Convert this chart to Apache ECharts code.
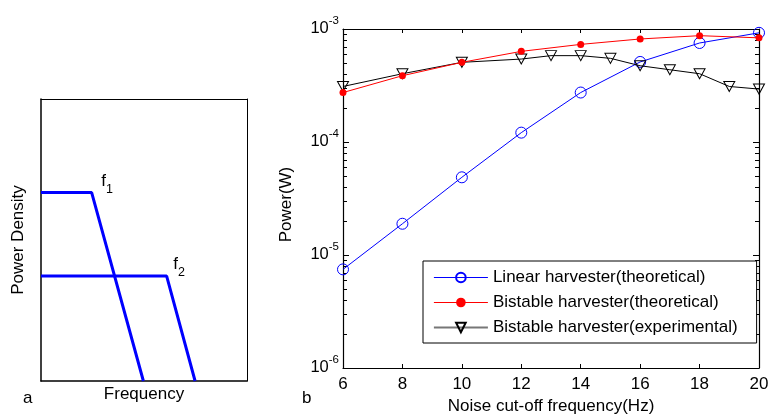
<!DOCTYPE html>
<html><head><meta charset="utf-8">
<script src="https://cdn.jsdelivr.net/npm/echarts@6/dist/echarts.min.js"></script>
<style>html,body{margin:0;padding:0;background:#fff}#c{width:768px;height:414px}</style>
</head><body><div id="c"></div>
<script>
// ---------- Panel a (schematic) ----------
const schemF1 = [[0, 66.8], [24.6, 66.8], [49.7, 0]];
const schemF2 = [[0, 37.2], [61.0, 37.2], [74.8, 0]];
const schemSub = ['1', '2'];

// ---------- Panel b (measured / theoretical power) ----------
const freqTheo = [6, 8, 10, 12, 14, 16, 18, 20];
const linearTheo = [7.46e-6, 1.89e-5, 4.87e-5, 1.21e-4, 2.74e-4, 5.11e-4, 7.52e-4, 9.25e-4];
const bistableTheo = [2.74e-4, 3.86e-4, 5.07e-4, 6.34e-4, 7.31e-4, 8.16e-4, 8.73e-4, 8.35e-4];
const freqExp = [6, 8, 10, 12, 13, 14, 15, 16, 17, 18, 19, 20];
const bistableExp = [3.1e-4, 4.02e-4, 5.07e-4, 5.42e-4, 5.81e-4, 5.81e-4, 5.5e-4, 4.73e-4, 4.36e-4, 4.02e-4, 3.1e-4, 2.94e-4];
const seriesNames = ['Linear harvester(theoretical)', 'Bistable harvester(theoretical)', 'Bistable harvester(experimental)'];
const xTicks = [6, 8, 10, 12, 14, 16, 18, 20];
const yDecades = [1e-6, 1e-5, 1e-4, 1e-3];

const FONT = 'Liberation Sans, Arial, Helvetica, sans-serif';
const zip = (xs, ys) => xs.map((x, i) => [x, ys[i]]);

// minor tick positions for the log axis (2..9 within each decade)
const minorVals = [];
for (let d = 0; d < yDecades.length - 1; d++) {
  for (let m = 2; m <= 9; m++) minorVals.push(m * yDecades[d]);
}

function knee(pt, sub, off) {
  return {
    value: pt,
    symbol: 'circle', symbolSize: 1,
    itemStyle: { color: 'rgba(0,0,0,0)' },
    label: {
      show: true, position: 'right', distance: 0, offset: off,
      formatter: '{f|f}{s|' + sub + '}',
      rich: {
        f: { fontSize: 17, fontFamily: FONT, color: '#000', verticalAlign: 'top', lineHeight: 17 },
        s: { fontSize: 12.5, fontFamily: FONT, color: '#000', verticalAlign: 'top', lineHeight: 12, padding: [10, 0, 0, 0] }
      }
    }
  };
}

const thinAxis = { onZero: false, lineStyle: { color: '#000', width: 1 } };
const boldAxis = { onZero: false, lineStyle: { color: '#000', width: 1.5 } };
const boxAxis = { onZero: false, lineStyle: { color: '#000', width: 1.2 } };

const option = {
  animation: false,
  backgroundColor: '#fff',
  textStyle: { fontFamily: FONT },
  grid: [
    { left: 41, top: 99, width: 206, height: 282, containLabel: false, outerBoundsMode: 'none' },
    { left: 343, top: 29, width: 416, height: 339, containLabel: false, outerBoundsMode: 'none' }
  ],
  xAxis: [
    { gridIndex: 0, type: 'value', min: 0, max: 100, position: 'bottom',
      axisLine: boldAxis, axisTick: { show: false }, axisLabel: { show: false },
      splitLine: { show: false },
      name: 'Frequency', nameLocation: 'middle', nameGap: 5,
      nameTextStyle: { fontSize: 17, color: '#000', fontFamily: FONT, verticalAlign: 'top' } },
    { gridIndex: 0, type: 'value', min: 0, max: 100, position: 'top',
      axisLine: thinAxis, axisTick: { show: false }, axisLabel: { show: false }, splitLine: { show: false } },
    { gridIndex: 1, type: 'value', min: 6, max: 20, interval: 2, position: 'bottom',
      axisLine: boxAxis,
      axisTick: { inside: true, length: 4, lineStyle: { color: '#000' } },
      axisLabel: { fontSize: 17, color: '#000', fontFamily: FONT, margin: 8 },
      splitLine: { show: false },
      name: 'Noise cut-off frequency(Hz)', nameLocation: 'middle', nameGap: 29,
      nameTextStyle: { fontSize: 17, color: '#000', fontFamily: FONT, verticalAlign: 'top' } },
    { gridIndex: 1, type: 'value', min: 6, max: 20, interval: 2, position: 'top',
      axisLine: boxAxis,
      axisTick: { inside: true, length: 4, lineStyle: { color: '#000' } },
      axisLabel: { show: false }, splitLine: { show: false } }
  ],
  yAxis: [
    { gridIndex: 0, type: 'value', min: 0, max: 100, position: 'left',
      axisLine: boldAxis, axisTick: { show: false }, axisLabel: { show: false },
      splitLine: { show: false },
      name: 'Power Density', nameLocation: 'middle', nameGap: 14, nameRotate: 90,
      nameTextStyle: { fontSize: 17, color: '#000', fontFamily: FONT } },
    { gridIndex: 0, type: 'value', min: 0, max: 100, position: 'right',
      axisLine: thinAxis, axisTick: { show: false }, axisLabel: { show: false }, splitLine: { show: false } },
    { gridIndex: 1, type: 'log', logBase: 10, min: 1e-6, max: 1e-3, position: 'left',
      axisLine: boxAxis,
      axisTick: { inside: true, length: 6, lineStyle: { color: '#000' } },
      axisLabel: {
        margin: 4, padding: [0, 0, 11, 0],
        formatter: v => '{b|10}{s|' + Math.round(Math.log10(v)) + '}',
        rich: {
          b: { fontSize: 16.5, fontFamily: FONT, color: '#000', verticalAlign: 'top', lineHeight: 17, padding: [5, 0, 0, 0] },
          s: { fontSize: 11.5, fontFamily: FONT, color: '#000', verticalAlign: 'top', lineHeight: 11 }
        }
      },
      splitLine: { show: false },
      name: 'Power(W)', nameLocation: 'middle', nameGap: 48, nameRotate: 90,
      nameTextStyle: { fontSize: 17, color: '#000', fontFamily: FONT, padding: [0, 12, 0, 0] } },
    { gridIndex: 1, type: 'log', logBase: 10, min: 1e-6, max: 1e-3, position: 'right',
      axisLine: boxAxis,
      axisTick: { inside: true, length: 6, lineStyle: { color: '#000' } },
      axisLabel: { show: false }, splitLine: { show: false } }
  ],
  legend: {
    orient: 'vertical', left: 423, top: 261,
    padding: [8, 19, 7, 10],
    itemWidth: 54, itemHeight: 12, itemGap: 8,
    borderColor: '#000', borderWidth: 1, backgroundColor: '#fff',
    textStyle: { fontSize: 17, color: '#000', fontFamily: FONT },
    data: [
      { name: seriesNames[0], lineStyle: { width: 1 } },
      { name: seriesNames[1], lineStyle: { width: 1 } },
      { name: seriesNames[2], lineStyle: { color: '#777', width: 1.8 } }
    ]
  },
  graphic: [
    { type: 'text', left: 23, top: 390, style: { text: 'a', fontSize: 17, fontFamily: FONT, fill: '#000' } },
    { type: 'text', left: 302, top: 390, style: { text: 'b', fontSize: 17, fontFamily: FONT, fill: '#000' } }
  ],
  series: [
    { type: 'line', xAxisIndex: 0, yAxisIndex: 0, symbol: 'none',
      lineStyle: { color: '#0000ff', width: 3 }, itemStyle: { color: '#0000ff' },
      data: [schemF1[0], knee(schemF1[1], schemSub[0], [9, -11]), schemF1[2]] },
    { type: 'line', xAxisIndex: 0, yAxisIndex: 0, symbol: 'none',
      lineStyle: { color: '#0000ff', width: 3 }, itemStyle: { color: '#0000ff' },
      data: [schemF2[0], knee(schemF2[1], schemSub[1], [6, -12]), schemF2[2]] },
    { name: seriesNames[0], type: 'line', xAxisIndex: 2, yAxisIndex: 2, clip: false,
      symbol: 'circle', symbolSize: 11,
      lineStyle: { color: '#0000ff', width: 1 },
      itemStyle: { color: 'rgba(0,0,0,0)', borderColor: '#0000ff', borderWidth: 1 },
      data: zip(freqTheo, linearTheo), z: 3 },
    { name: seriesNames[2], type: 'line', xAxisIndex: 2, yAxisIndex: 2, clip: false,
      symbol: 'triangle', symbolRotate: 180, symbolSize: [11, 10],
      lineStyle: { color: '#000', width: 1 },
      itemStyle: { color: 'rgba(0,0,0,0)', borderColor: '#000', borderWidth: 1 },
      data: zip(freqExp, bistableExp), z: 4 },
    { name: seriesNames[1], type: 'line', xAxisIndex: 2, yAxisIndex: 2, clip: false,
      symbol: 'circle', symbolSize: 7,
      lineStyle: { color: '#ff0000', width: 1 },
      itemStyle: { color: '#ff0000' },
      data: zip(freqTheo, bistableTheo), z: 5 },
    { type: 'custom', xAxisIndex: 2, yAxisIndex: 2, clip: false, silent: true,
      data: minorVals.map(v => [xTicks[0], v]),
      renderItem: (params, api) => {
        const v = api.value(1);
        const pL = api.coord([xTicks[0], v]);
        const pR = api.coord([xTicks[xTicks.length - 1], v]);
        const y = Math.round(pL[1]) + 0.5;
        return { type: 'group', children: [
          { type: 'line', shape: { x1: pL[0], y1: y, x2: pL[0] + 4, y2: y }, style: { stroke: '#000', lineWidth: 1 } },
          { type: 'line', shape: { x1: pR[0] - 4, y1: y, x2: pR[0], y2: y }, style: { stroke: '#000', lineWidth: 1 } }
        ] };
      } }
  ]
};

const chart = echarts.init(document.getElementById('c'), null, { renderer: 'canvas' });
chart.setOption(option);
</script>
</body></html>
